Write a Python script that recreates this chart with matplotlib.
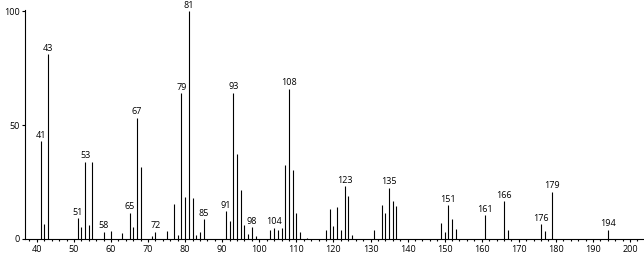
import matplotlib
matplotlib.use('Agg')
import matplotlib.pyplot as plt
from matplotlib.ticker import MultipleLocator

# m/z values and relative intensities
mz = [41, 42, 43, 51, 52, 53, 54, 55, 58, 60, 63, 65, 66, 67, 68, 71, 72,
      75, 77, 78, 79, 80, 81, 82, 83, 84, 85, 91, 92, 93, 94, 95, 96, 97,
      98, 99, 103, 104, 105, 106, 107, 108, 109, 110, 111, 113, 118, 119,
      120, 121, 122, 123, 124, 125, 131, 133, 134, 135, 136, 137, 149, 150,
      151, 152, 153, 161, 166, 167, 176, 177, 179, 194]
intensity = [43, 6.4, 81, 9.1, 5.1, 34, 6.2, 33.7, 3.2, 3.5, 2.5, 11.6, 5.1,
             53.3, 31.5, 1.5, 3.2, 3.4, 15.2, 1.9, 64, 18.5, 100, 18, 1.6,
             3.0, 8.8, 12.3, 7.8, 64.2, 37.5, 21.5, 6.3, 2.3, 5.3, 1.2, 4.0,
             5.0, 4.1, 5.0, 32.4, 66, 30.3, 11.6, 3.2, 0.5, 4.0, 13.2, 5.7,
             13.9, 4.0, 23.3, 19.0, 1.8, 4.0, 15.0, 11.6, 22.6, 16.7, 14.5,
             6.9, 3.0, 14.8, 8.8, 4.4, 10.5, 16.7, 4.0, 6.5, 3.5, 20.7, 4.0]
labelled = [41, 43, 51, 53, 58, 65, 67, 72, 79, 81, 85, 91, 93, 98, 104, 108,
            123, 135, 151, 161, 166, 176, 179, 194]

plt.rcParams['font.family'] = ['Open Sans', 'DejaVu Sans']

fig = plt.figure(figsize=(6.44, 2.56), dpi=100)
ax = fig.add_axes([25 / 644, 17 / 256, 618 / 644, 229 / 256])

ax.vlines(mz, 0, intensity, color='black', linewidth=0.8)

heights = dict(zip(mz, intensity))
for m in labelled:
    ax.annotate(str(m), xy=(m, heights[m]), xytext=(0, 1), textcoords='offset points',
                ha='center', va='bottom', fontsize=6.5)

ax.set_xlim(36.8, 203.5)
ax.set_ylim(0, 100.5)
ax.xaxis.set_major_locator(MultipleLocator(10))
ax.xaxis.set_minor_locator(MultipleLocator(2))
ax.set_xticks(range(40, 201, 10))
ax.set_yticks([0, 50, 100])
ax.tick_params(axis='both', which='major', direction='out', length=2.5, width=0.8,
               labelsize=6.5, pad=1.5)
ax.tick_params(axis='x', which='minor', direction='out', length=1.5, width=0.8)

for side in ['top', 'right']:
    ax.spines[side].set_visible(False)
for side in ['left', 'bottom']:
    ax.spines[side].set_linewidth(0.8)

fig.savefig('out.png', dpi=100)
